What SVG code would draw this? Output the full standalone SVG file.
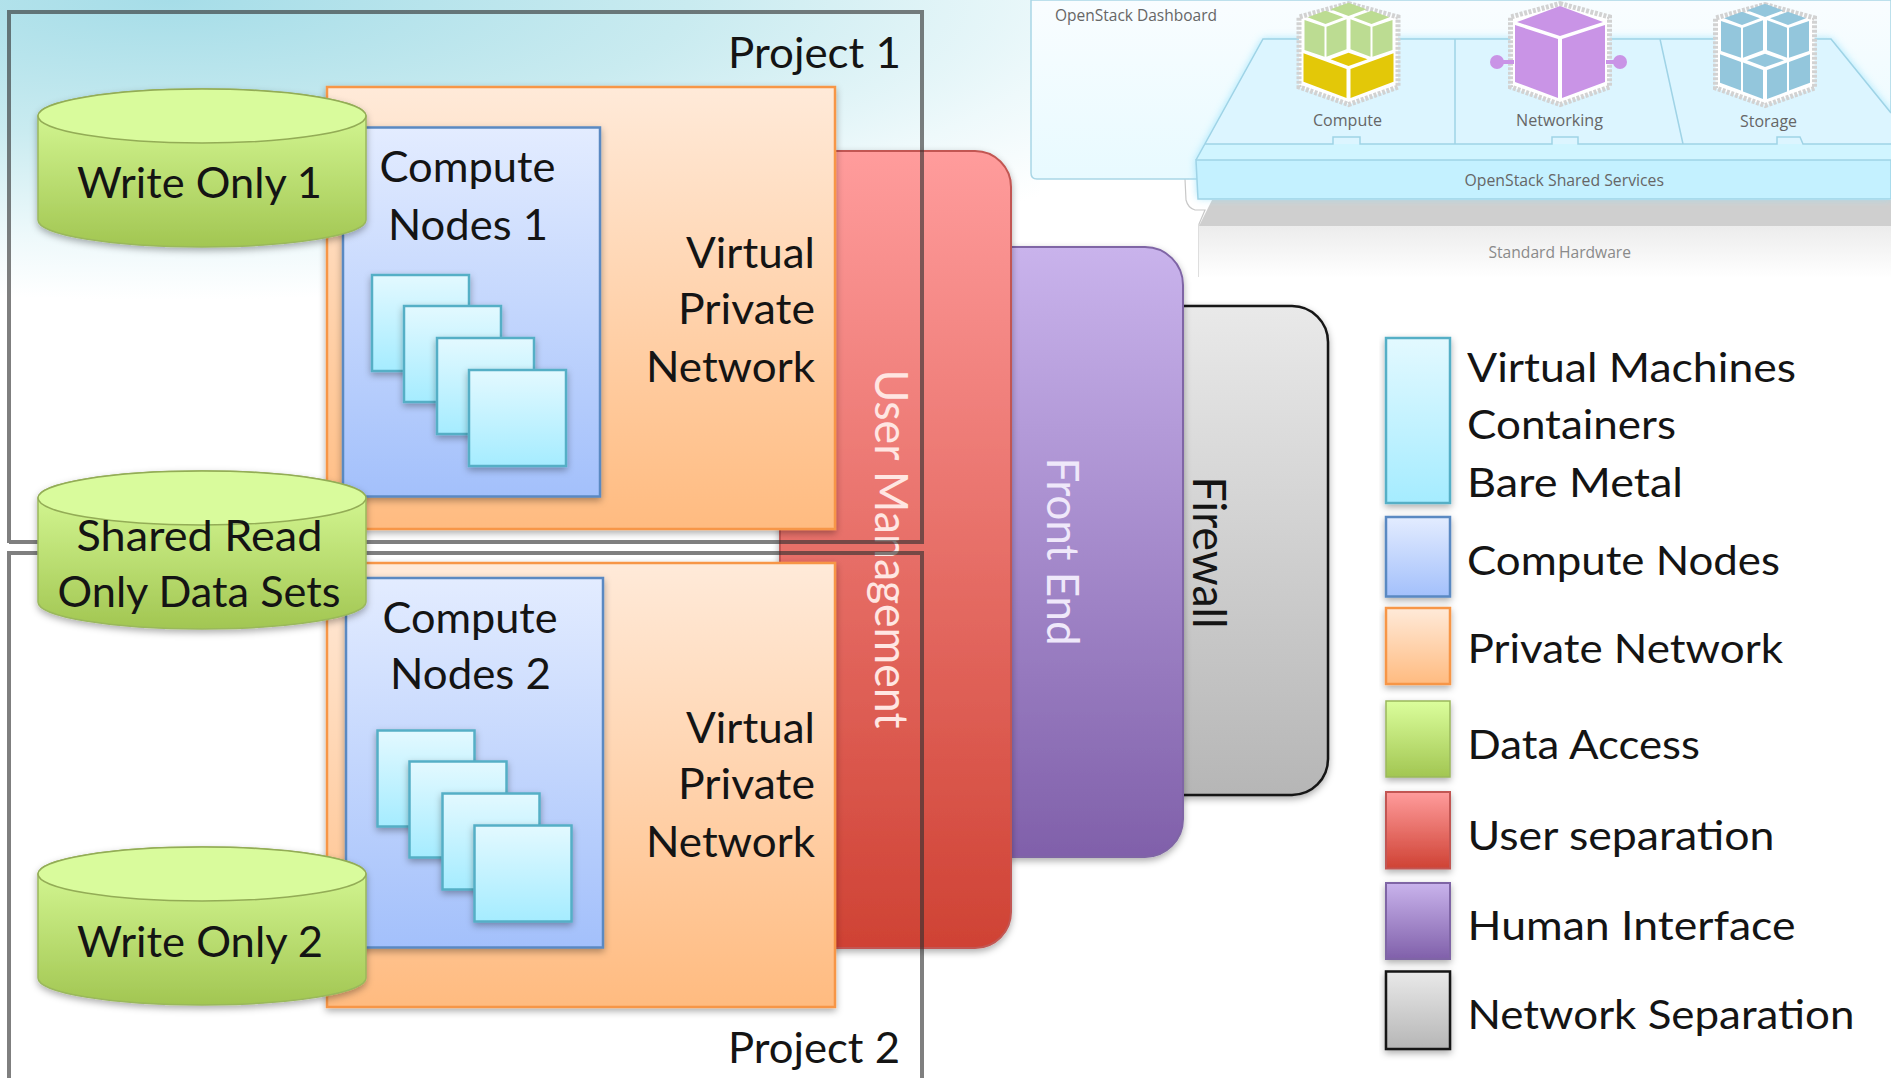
<svg xmlns="http://www.w3.org/2000/svg" xmlns:xlink="http://www.w3.org/1999/xlink" width="1891" height="1078" viewBox="0 0 1891 1078">
<style>
text{font-family:Lato,"Liberation Sans",sans-serif;fill:#141414}
.big{font-size:42px}
.leg{font-size:41px}
.os{font-family:"Open Sans","Liberation Sans",sans-serif;fill:#666;font-size:16px}
.orange{fill:url(#gOrange);stroke:#f79646;stroke-width:2.5;filter:url(#sh)}
.blue{fill:url(#gBlue);stroke:#5a89c2;stroke-width:2.5;filter:url(#sh)}
.vm{fill:url(#gVm);stroke:#55afc6;stroke-width:2.5;filter:url(#sh)}
.green{fill:url(#gGreen);stroke:#9ab85c;stroke-width:1.5;filter:url(#sh)}
.red{fill:url(#gRed);stroke:#c25752;stroke-width:2;filter:url(#sh)}
.purple{fill:url(#gPurple);stroke:#7f65a5;stroke-width:2;filter:url(#sh)}
.grey{fill:url(#gGrey);stroke:#161616;stroke-width:2.5;filter:url(#sh)}
.cyltop{fill:#d9fb9c;stroke:#93ac56;stroke-width:1.5}
.frame{fill:none;stroke:#303030;stroke-opacity:.62;stroke-width:4}
.ln{fill:none;stroke:#9fd3e6;stroke-width:1.5}
.stamp{fill:#fff;stroke:#d2d2d2;stroke-width:5;stroke-dasharray:3 1.5}
</style>
<defs>
<filter id="sh" x="-10%" y="-10%" width="125%" height="125%"><feDropShadow dx="0" dy="3" stdDeviation="3.5" flood-color="#000" flood-opacity=".32"/></filter>
<filter id="glow" x="-5%" y="-20%" width="110%" height="140%"><feGaussianBlur stdDeviation="4"/></filter>
<radialGradient id="gBg" gradientUnits="userSpaceOnUse" cx="0" cy="0" r="1" gradientTransform="translate(170 0) scale(1150 300)">
<stop offset="0" stop-color="#a6dde8"/><stop offset=".45" stop-color="#c9ebf0"/><stop offset=".8" stop-color="#eef9fb"/><stop offset="1" stop-color="#fff"/></radialGradient>
<linearGradient id="gPanel" x1="0" y1="0" x2="0" y2="1"><stop offset="0" stop-color="#f9fdff"/><stop offset="1" stop-color="#e8faff"/></linearGradient>
<linearGradient id="gHw" x1="0" y1="0" x2="0" y2="1"><stop offset="0" stop-color="#ececec"/><stop offset="1" stop-color="#fff"/></linearGradient>
<linearGradient id="gOrange" x1="0" y1="0" x2="0" y2="1"><stop offset="0" stop-color="#ffead9"/><stop offset="1" stop-color="#ffbb80"/></linearGradient>
<linearGradient id="gBlue" x1="0" y1="0" x2="0" y2="1"><stop offset="0" stop-color="#e3ecff"/><stop offset="1" stop-color="#a3c0fb"/></linearGradient>
<linearGradient id="gVm" x1="0" y1="0" x2="0" y2="1"><stop offset="0" stop-color="#e3f9ff"/><stop offset="1" stop-color="#a5ecff"/></linearGradient>
<linearGradient id="gGreen" x1="0" y1="0" x2="0" y2="1"><stop offset="0" stop-color="#dbfe9c"/><stop offset="1" stop-color="#a2c652"/></linearGradient>
<linearGradient id="gRed" x1="0" y1="0" x2="0" y2="1"><stop offset="0" stop-color="#ff9c9c"/><stop offset="1" stop-color="#cf4234"/></linearGradient>
<linearGradient id="gPurple" x1="0" y1="0" x2="0" y2="1"><stop offset="0" stop-color="#c9b3ec"/><stop offset="1" stop-color="#8060aa"/></linearGradient>
<linearGradient id="gGrey" x1="0" y1="0" x2="0" y2="1"><stop offset="0" stop-color="#e9e9e9"/><stop offset="1" stop-color="#b6b6b6"/></linearGradient>
<g id="stamp"><polygon class="stamp" points="0,3.5 49.5,17 49.5,87 0,104.5 -49.5,87 -49.5,17"/></g>
<g id="stackTop">
<polygon points="0,2.7 18,9.3 0,16 -18,9.3"/><polygon points="-23,10.7 -5,17.3 -23,24 -41,17.3"/><polygon points="23,10.7 41,17.3 23,24 5,17.3"/>
<polygon points="-44,20 -24,26.7 -24,56.7 -44,50"/><polygon points="-22,26.7 -2,19.3 -2,49.3 -22,56.7"/>
<polygon points="2,19.3 22,26.7 22,56.7 2,49.3"/><polygon points="24,26.7 44,20 44,50 24,56.7"/>
</g>
<g id="cyl"><path class="green" d="M0,27V131A164,27 0 0 0 328,131V27A164,27 0 0 0 0,27Z"/><ellipse class="cyltop" cx="164" cy="27" rx="164" ry="27"/></g>
<g id="vms"><rect class="vm" x="0" y="0" width="97" height="96"/><rect class="vm" x="32" y="31" width="97" height="96"/><rect class="vm" x="65" y="63" width="97" height="96"/><rect class="vm" x="97" y="95" width="97" height="96"/></g>
</defs>

<rect id="background" width="1891" height="1078" fill="#fff"/>
<rect width="1040" height="330" fill="url(#gBg)"/>

<g id="openstack">
<path d="M1185,179 L1186,200 Q1188,208 1195,210 L1205,210 L1199,224 L1199,277" fill="none" stroke="#c8c8c8" stroke-width="1.2"/>
<path d="M1031,0V173Q1031,179 1037,179H1891V0Z" fill="url(#gPanel)" stroke="#a9d6e6" stroke-width="1.5"/>
<polygon points="1199,226 1212,200 1891,200 1891,226" fill="#cfcfcf"/>
<rect x="1199" y="226" width="692" height="52" fill="url(#gHw)"/>
<path d="M1263,39H1831L1891,113V198H1198L1196,160Z" fill="#8fe0fa" opacity=".85" filter="url(#glow)"/>
<polygon points="1263,39 1831,39 1891,113 1891,144 1205,144" fill="#dcf5ff"/>
<polygon points="1205,144 1891,144 1891,160 1196,160" fill="#d0f5ff"/>
<path class="ln" d="M1196,160L1263,39H1831L1891,113M1455,39V144M1660,39L1683,144M1205,144H1333V137H1360V144H1552V137H1578V144H1777V137H1800L1803,144H1891"/>
<polygon class="ln" points="1196,160 1891,160 1891,199 1198,199" style="fill:#c4f1ff"/>
<g id="icon-compute" transform="translate(1348.5,0)">
<use xlink:href="#stamp" href="#stamp"/>
<use xlink:href="#stackTop" href="#stackTop" fill="#bcdc92"/>
<g fill="#e3c808"><polygon points="0,52.7 19,59.3 0,66 -18,59.3"/><polygon points="-45,53.3 -2,69 -2,98 -45,81.7"/><polygon points="45,53.3 2,69 2,98 45,81.7"/></g>
</g>
<g id="icon-networking" transform="translate(1560,0)" fill="#c994e6">
<use xlink:href="#stamp" href="#stamp"/>
<polygon points="0,6 43,22 0,36 -43,22"/><polygon points="-45,25 -2,39 -2,98 -45,82"/><polygon points="45,25 2,39 2,98 45,82"/>
<circle cx="-63" cy="62" r="7"/><rect x="-63" y="60" width="17" height="4"/>
<circle cx="60" cy="62" r="7"/><rect x="46" y="60" width="14" height="4"/>
</g>
<g id="icon-storage" transform="translate(1765,1)" fill="#93c6dc">
<use xlink:href="#stamp" href="#stamp"/>
<use xlink:href="#stackTop" href="#stackTop"/>
<polygon points="0,52.7 19,59.3 0,66 -18,59.3"/>
<polygon points="-45,53.3 -24,61 -24,89.5 -45,81.7"/><polygon points="-22,61.6 -2,69 -2,98 -22,90.6"/>
<polygon points="45,53.3 24,61 24,89.5 45,81.7"/><polygon points="22,61.6 2,69 2,98 22,90.6"/>
</g>
<text class="os" x="1055" y="21" textLength="162" lengthAdjust="spacingAndGlyphs">OpenStack Dashboard</text>
<text class="os" x="1313" y="126" textLength="69" lengthAdjust="spacingAndGlyphs">Compute</text>
<text class="os" x="1516" y="125.5" textLength="87" lengthAdjust="spacingAndGlyphs">Networking</text>
<text class="os" x="1740" y="126.5" textLength="57" lengthAdjust="spacingAndGlyphs">Storage</text>
<text class="os" x="1464.5" y="186" textLength="199.5" lengthAdjust="spacingAndGlyphs">OpenStack Shared Services</text>
<text class="os" x="1488.5" y="257.5" textLength="142.5" lengthAdjust="spacingAndGlyphs" style="fill:#8a8a8a">Standard Hardware</text>
</g>

<g id="firewall"><rect class="grey" x="1100" y="306" width="228" height="489" rx="36"/>
<text class="big" transform="translate(1193,476.5) rotate(90)" textLength="152" lengthAdjust="spacingAndGlyphs" style="font-size:46px">Firewall</text></g>
<g id="front-end"><rect class="purple" x="950" y="247" width="233" height="610" rx="38"/>
<text class="big" transform="translate(1047,457.5) rotate(90)" textLength="188" lengthAdjust="spacingAndGlyphs" style="font-size:45px;fill:#efe8fa">Front End</text></g>
<g id="user-management"><rect class="red" x="780" y="151" width="231" height="797" rx="36"/>
<text class="big" transform="translate(875,369.5) rotate(90)" textLength="359" lengthAdjust="spacingAndGlyphs" style="font-size:46px;fill:#ffe6e2">User Management</text></g>

<g id="project-1"><path class="frame" d="M9,543V12H922V542H9"/>
<text class="big" x="728" y="68" textLength="173" lengthAdjust="spacingAndGlyphs">Project 1</text></g>
<g id="project-2"><path class="frame" d="M9,1078V553H922V1078"/>
<text class="big" x="728" y="1063" textLength="172" lengthAdjust="spacingAndGlyphs">Project 2</text></g>

<g id="vpn-1"><rect class="orange" x="327" y="87" width="508" height="442"/>
<text class="big" x="686" y="267.5" textLength="129" lengthAdjust="spacingAndGlyphs">Virtual</text>
<text class="big" x="678" y="324" textLength="137" lengthAdjust="spacingAndGlyphs">Private</text>
<text class="big" x="646" y="382" textLength="169" lengthAdjust="spacingAndGlyphs">Network</text></g>
<g id="vpn-2"><rect class="orange" x="327" y="563" width="508" height="444"/>
<text class="big" x="686" y="743" textLength="129" lengthAdjust="spacingAndGlyphs">Virtual</text>
<text class="big" x="678" y="799" textLength="137" lengthAdjust="spacingAndGlyphs">Private</text>
<text class="big" x="646" y="857" textLength="169" lengthAdjust="spacingAndGlyphs">Network</text></g>

<g id="compute-nodes-1"><rect class="blue" x="343" y="127.5" width="257" height="369"/>
<text class="big" x="379.5" y="182" textLength="176" lengthAdjust="spacingAndGlyphs">Compute</text>
<text class="big" x="388" y="239.5" textLength="160" lengthAdjust="spacingAndGlyphs">Nodes 1</text>
<use xlink:href="#vms" href="#vms" transform="translate(372,275)"/></g>
<g id="compute-nodes-2"><rect class="blue" x="346" y="578" width="257" height="369.5"/>
<text class="big" x="382.5" y="632.5" textLength="175" lengthAdjust="spacingAndGlyphs">Compute</text>
<text class="big" x="390" y="689" textLength="161" lengthAdjust="spacingAndGlyphs">Nodes 2</text>
<use xlink:href="#vms" href="#vms" transform="translate(377.5,730.5)"/></g>

<g id="write-only-1"><use xlink:href="#cyl" href="#cyl" transform="translate(38,89)"/>
<text class="big" x="77" y="198" textLength="245" lengthAdjust="spacingAndGlyphs">Write Only 1</text></g>
<g id="shared-read"><use xlink:href="#cyl" href="#cyl" transform="translate(38,471)"/>
<text class="big" x="76.5" y="550.5" textLength="246" lengthAdjust="spacingAndGlyphs">Shared Read</text>
<text class="big" x="57.5" y="607" textLength="283" lengthAdjust="spacingAndGlyphs">Only Data Sets</text></g>
<g id="write-only-2"><use xlink:href="#cyl" href="#cyl" transform="translate(38,847)"/>
<text class="big" x="77" y="956.5" textLength="246" lengthAdjust="spacingAndGlyphs">Write Only 2</text></g>

<g id="legend">
<rect class="vm" x="1386" y="338" width="64" height="165"/>
<rect class="blue" x="1386" y="517" width="64" height="79.5"/>
<rect class="orange" x="1386" y="608" width="64" height="76"/>
<rect class="green" x="1386" y="701" width="64" height="76"/>
<rect class="red" x="1386" y="792" width="64" height="76.5"/>
<rect class="purple" x="1386" y="883" width="64" height="76"/>
<rect class="grey" x="1386" y="971.5" width="64" height="77.5"/>
<text class="leg" x="1467" y="382" textLength="329" lengthAdjust="spacingAndGlyphs">Virtual Machines</text>
<text class="leg" x="1467" y="438.5" textLength="209" lengthAdjust="spacingAndGlyphs">Containers</text>
<text class="leg" x="1467" y="497" textLength="216" lengthAdjust="spacingAndGlyphs">Bare Metal</text>
<text class="leg" x="1467" y="574.5" textLength="313" lengthAdjust="spacingAndGlyphs">Compute Nodes</text>
<text class="leg" x="1467.5" y="663" textLength="315.5" lengthAdjust="spacingAndGlyphs">Private Network</text>
<text class="leg" x="1467.5" y="759" textLength="232.5" lengthAdjust="spacingAndGlyphs">Data Access</text>
<text class="leg" x="1467.5" y="850" textLength="307" lengthAdjust="spacingAndGlyphs">User separation</text>
<text class="leg" x="1467.5" y="940" textLength="328" lengthAdjust="spacingAndGlyphs">Human Interface</text>
<text class="leg" x="1467.5" y="1028.5" textLength="387" lengthAdjust="spacingAndGlyphs">Network Separation</text>
</g>
</svg>
